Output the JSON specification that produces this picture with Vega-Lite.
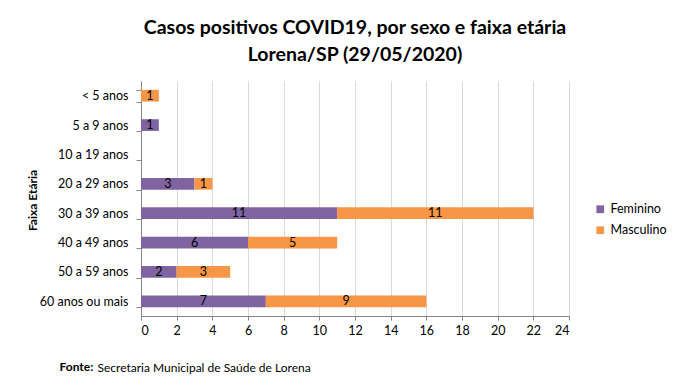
{
  "$schema": "https://vega.github.io/schema/vega-lite/v6.json",
  "width": 428,
  "height": 235,
  "autosize": {"type": "none"},
  "padding": {"left": 141, "top": 81, "right": 111, "bottom": 65},
  "background": "white",
  "config": {
    "font": "Lato",
    "view": {"stroke": null},
    "axis": {"labelFont": "Lato", "titleFont": "Lato"}
  },
  "title": {
    "text": ["Casos positivos COVID19, por sexo e faixa etária", "Lorena/SP (29/05/2020)"],
    "font": "Lato",
    "fontSize": 19.5,
    "fontWeight": "bold",
    "color": "#000000",
    "anchor": "middle",
    "lineHeight": 27,
    "offset": 10
  },
  "data": {
    "values": [
      {"faixa": "< 5 anos", "sexo": "Masculino", "casos": 1},
      {"faixa": "5 a 9 anos", "sexo": "Feminino", "casos": 1},
      {"faixa": "20 a 29 anos", "sexo": "Feminino", "casos": 3},
      {"faixa": "20 a 29 anos", "sexo": "Masculino", "casos": 1},
      {"faixa": "30 a 39 anos", "sexo": "Feminino", "casos": 11},
      {"faixa": "30 a 39 anos", "sexo": "Masculino", "casos": 11},
      {"faixa": "40 a 49 anos", "sexo": "Feminino", "casos": 6},
      {"faixa": "40 a 49 anos", "sexo": "Masculino", "casos": 5},
      {"faixa": "50 a 59 anos", "sexo": "Feminino", "casos": 2},
      {"faixa": "50 a 59 anos", "sexo": "Masculino", "casos": 3},
      {"faixa": "60 anos ou mais", "sexo": "Feminino", "casos": 7},
      {"faixa": "60 anos ou mais", "sexo": "Masculino", "casos": 9}
    ]
  },
  "transform": [
    {"stack": "casos", "groupby": ["faixa"], "sort": [{"field": "sexo", "order": "ascending"}], "as": ["c0", "c1"]},
    {"calculate": "(datum.c0 + datum.c1) / 2", "as": "cmid"}
  ],
  "encoding": {
    "y": {
      "field": "faixa",
      "type": "nominal",
      "scale": {
        "domain": ["< 5 anos", "5 a 9 anos", "10 a 19 anos", "20 a 29 anos", "30 a 39 anos", "40 a 49 anos", "50 a 59 anos", "60 anos ou mais"],
        "paddingInner": 0.6,
        "paddingOuter": 0.3
      },
      "axis": {
        "title": "Faixa Etária",
        "titleFontSize": 12,
        "titleFontWeight": "bold",
        "titleColor": "#000000",
        "titleX": -109,
        "titleY": 119,
        "titleAngle": -90,
        "titleAlign": "center",
        "titleBaseline": "middle",
        "labelFontSize": 12.5,
        "labelColor": "#000000",
        "labelPadding": 8,
        "tickBand": "extent",
        "tickSize": 5,
        "tickColor": "#868686",
        "domainColor": "#868686",
        "grid": false
      }
    }
  },
  "layer": [
    {
      "mark": {"type": "bar"},
      "encoding": {
        "x": {
          "field": "c0",
          "type": "quantitative",
          "scale": {"domain": [0, 24], "nice": false},
          "axis": {
            "values": [0, 2, 4, 6, 8, 10, 12, 14, 16, 18, 20, 22, 24],
            "title": "Secretaria Municipal de Saúde de Lorena",
            "titleFontSize": 12,
            "titleFontWeight": "normal",
            "titleColor": "#000000",
            "titleAnchor": "start",
            "titleAlign": "left",
            "titleBaseline": "middle",
            "titleX": -44,
            "titleY": 51,
            "labelFontSize": 12.5,
            "labelColor": "#000000",
            "labelPadding": 4,
            "tickSize": 4,
            "tickColor": "#868686",
            "domainColor": "#868686",
            "grid": true,
            "gridColor": "#D9D9D9"
          }
        },
        "x2": {"field": "c1"},
        "color": {
          "field": "sexo",
          "type": "nominal",
          "scale": {"domain": ["Feminino", "Masculino"], "range": ["#8064A2", "#F79646"]},
          "legend": {
            "title": null,
            "orient": "none",
            "legendX": 453,
            "legendY": 122,
            "symbolType": "square",
            "symbolSize": 60,
            "symbolStrokeWidth": 0,
            "labelFontSize": 12.5,
            "labelColor": "#000000",
            "rowPadding": 8,
            "labelFont": "Lato"
          }
        }
      }
    },
    {
      "mark": {"type": "text", "fontSize": 12.5, "color": "#000000", "font": "Lato"},
      "encoding": {
        "x": {
          "field": "cmid",
          "type": "quantitative",
          "axis": {
            "orient": "top",
            "title": "Fonte:",
            "titleFontSize": 12,
            "titleFontWeight": "bold",
            "titleColor": "#000000",
            "titleAnchor": "start",
            "titleAlign": "left",
            "titleBaseline": "middle",
            "titleX": -82,
            "titleY": 285,
            "labels": false,
            "ticks": false,
            "domain": false,
            "grid": false
          }
        },
        "text": {"field": "casos", "type": "quantitative"}
      }
    }
  ],
  "resolve": {"axis": {"x": "independent"}}
}
